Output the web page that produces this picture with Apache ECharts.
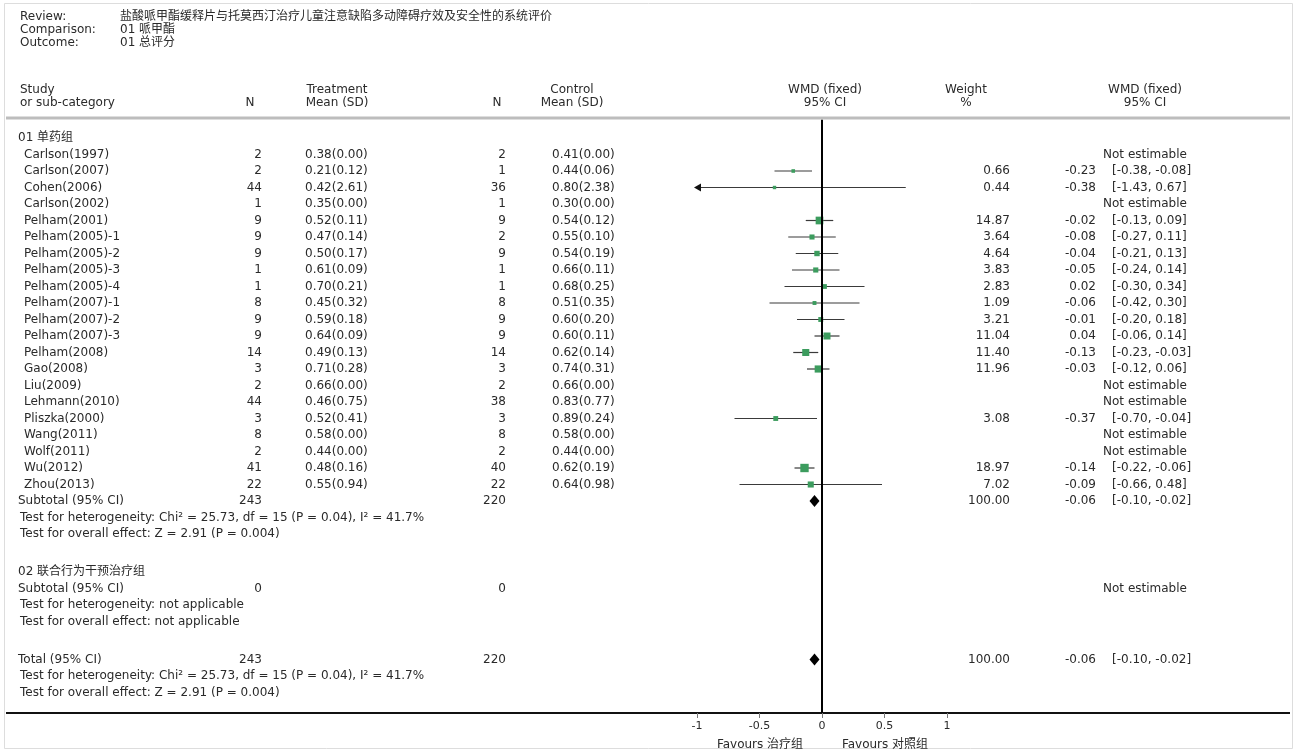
<!DOCTYPE html>
<html>
<head>
<meta charset="utf-8">
<title>Forest plot</title>
<script src="https://cdn.jsdelivr.net/npm/echarts/dist/echarts.min.js"></script>
<style>
  html, body { margin: 0; padding: 0; background: #ffffff; }
  #chart { width: 1300px; height: 753px; }
</style>
</head>
<body>
<div id="chart"></div>
<script>
// ---------------- data ----------------
const reviewTitle = '盐酸哌甲酯缓释片与托莫西汀治疗儿童注意缺陷多动障碍疗效及安全性的系统评价';
const comparisonTitle = '01 哌甲酯';
const outcomeTitle = '01 总评分';
const group1Name = '01 单药组';
const group2Name = '02 联合行为干预治疗组';

const studies = [
  'Carlson(1997)', 'Carlson(2007)', 'Cohen(2006)', 'Carlson(2002)',
  'Pelham(2001)', 'Pelham(2005)-1', 'Pelham(2005)-2', 'Pelham(2005)-3',
  'Pelham(2005)-4', 'Pelham(2007)-1', 'Pelham(2007)-2', 'Pelham(2007)-3',
  'Pelham(2008)', 'Gao(2008)', 'Liu(2009)', 'Lehmann(2010)',
  'Pliszka(2000)', 'Wang(2011)', 'Wolf(2011)', 'Wu(2012)', 'Zhou(2013)'
];
const nTreat = [2, 2, 44, 1, 9, 9, 9, 1, 1, 8, 9, 9, 14, 3, 2, 44, 3, 8, 2, 41, 22];
const meanTreat = [0.38, 0.21, 0.42, 0.35, 0.52, 0.47, 0.50, 0.61, 0.70, 0.45, 0.59, 0.64, 0.49, 0.71, 0.66, 0.46, 0.52, 0.58, 0.44, 0.48, 0.55];
const sdTreat = [0.00, 0.12, 2.61, 0.00, 0.11, 0.14, 0.17, 0.09, 0.21, 0.32, 0.18, 0.09, 0.13, 0.28, 0.00, 0.75, 0.41, 0.00, 0.00, 0.16, 0.94];
const nCtrl = [2, 1, 36, 1, 9, 2, 9, 1, 1, 8, 9, 9, 14, 3, 2, 38, 3, 8, 2, 40, 22];
const meanCtrl = [0.41, 0.44, 0.80, 0.30, 0.54, 0.55, 0.54, 0.66, 0.68, 0.51, 0.60, 0.60, 0.62, 0.74, 0.66, 0.83, 0.89, 0.58, 0.44, 0.62, 0.64];
const sdCtrl = [0.00, 0.06, 2.38, 0.00, 0.12, 0.10, 0.19, 0.11, 0.25, 0.35, 0.20, 0.11, 0.14, 0.31, 0.00, 0.77, 0.24, 0.00, 0.00, 0.19, 0.98];

// weighted mean difference per study; null = not estimable
const wmd    = [null, -0.23, -0.38, null, -0.02, -0.08, -0.04, -0.05,  0.02, -0.06, -0.01,  0.04, -0.13, -0.03, null, null, -0.37, null, null, -0.14, -0.09];
const ciLow  = [null, -0.38, -1.43, null, -0.13, -0.27, -0.21, -0.24, -0.30, -0.42, -0.20, -0.06, -0.23, -0.12, null, null, -0.70, null, null, -0.22, -0.66];
const ciHigh = [null, -0.08,  0.67, null,  0.09,  0.11,  0.13,  0.14,  0.34,  0.30,  0.18,  0.14, -0.03,  0.06, null, null, -0.04, null, null, -0.06,  0.48];
const weight = [null, 0.66, 0.44, null, 14.87, 3.64, 4.64, 3.83, 2.83, 1.09, 3.21, 11.04, 11.40, 11.96, null, null, 3.08, null, null, 18.97, 7.02];

const subtotal1 = { est: -0.06, low: -0.10, high: -0.02, weight: 100.00 };
const total = { est: -0.06, low: -0.10, high: -0.02, weight: 100.00 };

const het1 = 'Test for heterogeneity: Chi² = 25.73, df = 15 (P = 0.04), I² = 41.7%';
const overall1 = 'Test for overall effect: Z = 2.91 (P = 0.004)';
const het2 = 'Test for heterogeneity: not applicable';
const overall2 = 'Test for overall effect: not applicable';
const hetTotal = 'Test for heterogeneity: Chi² = 25.73, df = 15 (P = 0.04), I² = 41.7%';
const overallTotal = 'Test for overall effect: Z = 2.91 (P = 0.004)';

const xTicks = [-1, -0.5, 0, 0.5, 1];
const favoursLeft = 'Favours 治疗组';
const favoursRight = 'Favours 对照组';

// ---------------- layout ----------------
const W = 1300, H = 753;
const STEP = 16.5;          // row pitch in px
const FIRST_ROW_Y = 138;    // first table row
const AXIS_Y = 713;         // bottom rule / effect axis
const Y_MIN = -1.1;         // room above first row for the zero line
const Y_MAX = (AXIS_Y - FIRST_ROW_Y) / STEP;
const PLOT_LEFT = 697, PLOT_RIGHT = 947;
const FONT = 'DejaVu Sans, "Noto Sans CJK SC", sans-serif';
const FS = 12;
const INK = '#2a2a2a';
const SQUARE = '#3c9c5e';

const COL = {
  name: 18, nameIndent: 24,
  nT: 262, meanT: 305,
  nC: 506, meanC: 552,
  weight: 1010,
  est: 1096, ci: 1112, ne: 1145
};

const sumT = nTreat.reduce((a, b) => a + b, 0);
const sumC = nCtrl.reduce((a, b) => a + b, 0);

// rows of the table, each with a vertical slot
const rows = [];
let slot = 0;
function addRow(r) { r.slot = slot; rows.push(r); slot += 1; }
addRow({ kind: 'group', text: group1Name });
studies.forEach((s, i) => addRow({ kind: 'study', i }));
addRow({ kind: 'pooled', label: 'Subtotal (95% CI)', nT: sumT, nC: sumC, res: subtotal1 });
addRow({ kind: 'note', text: het1 });
addRow({ kind: 'note', text: overall1 });
slot += 1.3;
addRow({ kind: 'group', text: group2Name });
addRow({ kind: 'pooled', label: 'Subtotal (95% CI)', nT: 0, nC: 0, res: null });
addRow({ kind: 'note', text: het2 });
addRow({ kind: 'note', text: overall2 });
slot += 1.3;
addRow({ kind: 'pooled', label: 'Total (95% CI)', nT: sumT, nC: sumC, res: total });
addRow({ kind: 'note', text: hetTotal });
addRow({ kind: 'note', text: overallTotal });

const f2 = v => v.toFixed(2);
const ciText = (lo, hi) => '[' + f2(lo) + ', ' + f2(hi) + ']';

function txt(x, y, s, align, extra) {
  return {
    type: 'text',
    style: Object.assign({
      x: x, y: y, text: s, align: align || 'left', verticalAlign: 'middle',
      fontFamily: FONT, fontSize: FS, fill: INK
    }, extra || {})
  };
}

function renderTable(params, api) {
  const r = rows[api.value(2)];
  const y = api.coord([0, api.value(1)])[1];
  const kids = [];
  if (r.kind === 'group') {
    kids.push(txt(COL.name, y, r.text));
  } else if (r.kind === 'note') {
    kids.push(txt(COL.name + 2, y, r.text));
  } else if (r.kind === 'study') {
    const i = r.i;
    kids.push(txt(COL.nameIndent, y, studies[i]));
    kids.push(txt(COL.nT, y, String(nTreat[i]), 'right'));
    kids.push(txt(COL.meanT, y, f2(meanTreat[i]) + '(' + f2(sdTreat[i]) + ')'));
    kids.push(txt(COL.nC, y, String(nCtrl[i]), 'right'));
    kids.push(txt(COL.meanC, y, f2(meanCtrl[i]) + '(' + f2(sdCtrl[i]) + ')'));
    if (wmd[i] === null) {
      kids.push(txt(COL.ne, y, 'Not estimable', 'center'));
    } else {
      kids.push(txt(COL.weight, y, f2(weight[i]), 'right'));
      kids.push(txt(COL.est, y, f2(wmd[i]), 'right'));
      kids.push(txt(COL.ci, y, ciText(ciLow[i], ciHigh[i])));
    }
  } else if (r.kind === 'pooled') {
    kids.push(txt(COL.name, y, r.label));
    kids.push(txt(COL.nT, y, String(r.nT), 'right'));
    kids.push(txt(COL.nC, y, String(r.nC), 'right'));
    if (r.res) {
      kids.push(txt(COL.weight, y, f2(r.res.weight), 'right'));
      kids.push(txt(COL.est, y, f2(r.res.est), 'right'));
      kids.push(txt(COL.ci, y, ciText(r.res.low, r.res.high)));
    } else {
      kids.push(txt(COL.ne, y, 'Not estimable', 'center'));
    }
  }
  return { type: 'group', children: kids };
}

// study markers: [wmd, slot, low, high, weight]
const studyMarks = [];
rows.forEach(r => {
  if (r.kind === 'study' && wmd[r.i] !== null) {
    studyMarks.push([wmd[r.i], r.slot, ciLow[r.i], ciHigh[r.i], weight[r.i]]);
  }
});
// pooled diamonds: [est, slot, low, high]
const diamonds = [];
rows.forEach(r => {
  if (r.kind === 'pooled' && r.res) diamonds.push([r.res.est, r.slot, r.res.low, r.res.high]);
});

const X_MIN = xTicks[0], X_MAX = xTicks[xTicks.length - 1];
const clampX = v => Math.max(X_MIN, Math.min(X_MAX, v));

function renderStudy(params, api) {
  const est = api.value(0), s = api.value(1), lo = api.value(2), hi = api.value(3), w = api.value(4);
  const pLo = api.coord([clampX(lo), s]);
  const pHi = api.coord([clampX(hi), s]);
  const pE = api.coord([est, s]);
  const kids = [{
    type: 'line',
    shape: { x1: pLo[0], y1: pLo[1], x2: pHi[0], y2: pHi[1] },
    style: { stroke: '#3a3a3a', lineWidth: 1.2 }
  }];
  if (lo < X_MIN) {
    kids.push({ type: 'polygon', shape: { points: [[pLo[0] - 3, pLo[1]], [pLo[0] + 4, pLo[1] - 4], [pLo[0] + 4, pLo[1] + 4]] }, style: { fill: '#111' } });
  }
  if (hi > X_MAX) {
    kids.push({ type: 'polygon', shape: { points: [[pHi[0] + 3, pHi[1]], [pHi[0] - 4, pHi[1] - 4], [pHi[0] - 4, pHi[1] + 4]] }, style: { fill: '#111' } });
  }
  const size = 2.5 + 1.35 * Math.sqrt(w);
  kids.push({
    type: 'rect',
    shape: { x: pE[0] - size / 2, y: pE[1] - size / 2, width: size, height: size },
    style: { fill: SQUARE }
  });
  return { type: 'group', children: kids };
}

function renderDiamond(params, api) {
  const est = api.value(0), s = api.value(1), lo = api.value(2), hi = api.value(3);
  const pL = api.coord([lo, s]), pR = api.coord([hi, s]), pE = api.coord([est, s]);
  const h = 6;
  return {
    type: 'polygon',
    shape: { points: [[pL[0], pE[1]], [pE[0], pE[1] - h], [pR[0], pE[1]], [pE[0], pE[1] + h]] },
    style: { fill: '#000' }
  };
}

// fixed page furniture: heading block, column heads, rules
const headY1 = 90, headY2 = 103;
function gText(x, y, s, align) {
  return { type: 'text', x: x, y: y, style: { text: s, align: align || 'left', verticalAlign: 'middle', fontFamily: FONT, fontSize: FS, fill: INK } };
}
const graphics = [
  { type: 'rect', shape: { x: 4.5, y: 3.5, width: 1288, height: 745 }, style: { fill: 'none', stroke: '#dddddd', lineWidth: 1 } },
  gText(20, 17, 'Review:'), gText(120, 17, reviewTitle),
  gText(20, 30, 'Comparison:'), gText(120, 30, comparisonTitle),
  gText(20, 43, 'Outcome:'), gText(120, 43, outcomeTitle),
  gText(20, headY1, 'Study'), gText(20, headY2, 'or sub-category'),
  gText(250, headY2, 'N', 'center'),
  gText(337, headY1, 'Treatment', 'center'), gText(337, headY2, 'Mean (SD)', 'center'),
  gText(497, headY2, 'N', 'center'),
  gText(572, headY1, 'Control', 'center'), gText(572, headY2, 'Mean (SD)', 'center'),
  gText(825, headY1, 'WMD (fixed)', 'center'), gText(825, headY2, '95% CI', 'center'),
  gText(966, headY1, 'Weight', 'center'), gText(966, headY2, '%', 'center'),
  gText(1145, headY1, 'WMD (fixed)', 'center'), gText(1145, headY2, '95% CI', 'center'),
  { type: 'line', shape: { x1: 6, y1: 118, x2: 1290, y2: 118 }, style: { stroke: '#bdbdbd', lineWidth: 3 } },
  { type: 'line', shape: { x1: 6, y1: AXIS_Y, x2: 1290, y2: AXIS_Y }, style: { stroke: '#111', lineWidth: 2 } },
  gText(760, 745, favoursLeft, 'center'),
  gText(885, 745, favoursRight, 'center')
];

const chart = echarts.init(document.getElementById('chart'), null, { renderer: 'canvas' });
chart.setOption({
  animation: false,
  backgroundColor: '#ffffff',
  graphic: graphics,
  grid: {
    left: PLOT_LEFT, right: W - PLOT_RIGHT,
    top: FIRST_ROW_Y + Y_MIN * STEP, bottom: H - AXIS_Y,
    containLabel: false
  },
  xAxis: {
    type: 'value', position: 'bottom', min: X_MIN, max: X_MAX, interval: 0.5,
    axisLine: { show: false, onZero: false },
    axisTick: { show: true, length: 5, lineStyle: { color: '#777' } },
    splitLine: { show: false },
    axisLabel: { fontFamily: FONT, fontSize: FS - 1, color: INK, margin: 8,
      formatter: v => (xTicks.indexOf(v) >= 0 ? String(v) : '') }
  },
  yAxis: {
    type: 'value', inverse: true, min: Y_MIN, max: Y_MAX, show: false
  },
  series: [
    {
      type: 'custom', name: 'table', silent: true, clip: false,
      renderItem: renderTable,
      encode: { x: 0, y: 1 },
      data: rows.map((r, k) => [0, r.slot, k]),
      z: 5
    },
    {
      type: 'custom', name: 'studies', silent: true,
      renderItem: renderStudy,
      encode: { x: [0, 2, 3], y: 1 },
      data: studyMarks,
      z: 4,
      markLine: {
        silent: true, symbol: 'none', label: { show: false },
        lineStyle: { color: '#000', width: 2, type: 'solid' },
        data: [{ xAxis: 0 }]
      }
    },
    {
      type: 'custom', name: 'pooled', silent: true,
      renderItem: renderDiamond,
      encode: { x: [0, 2, 3], y: 1 },
      data: diamonds,
      z: 4
    }
  ]
});
</script>
</body>
</html>
